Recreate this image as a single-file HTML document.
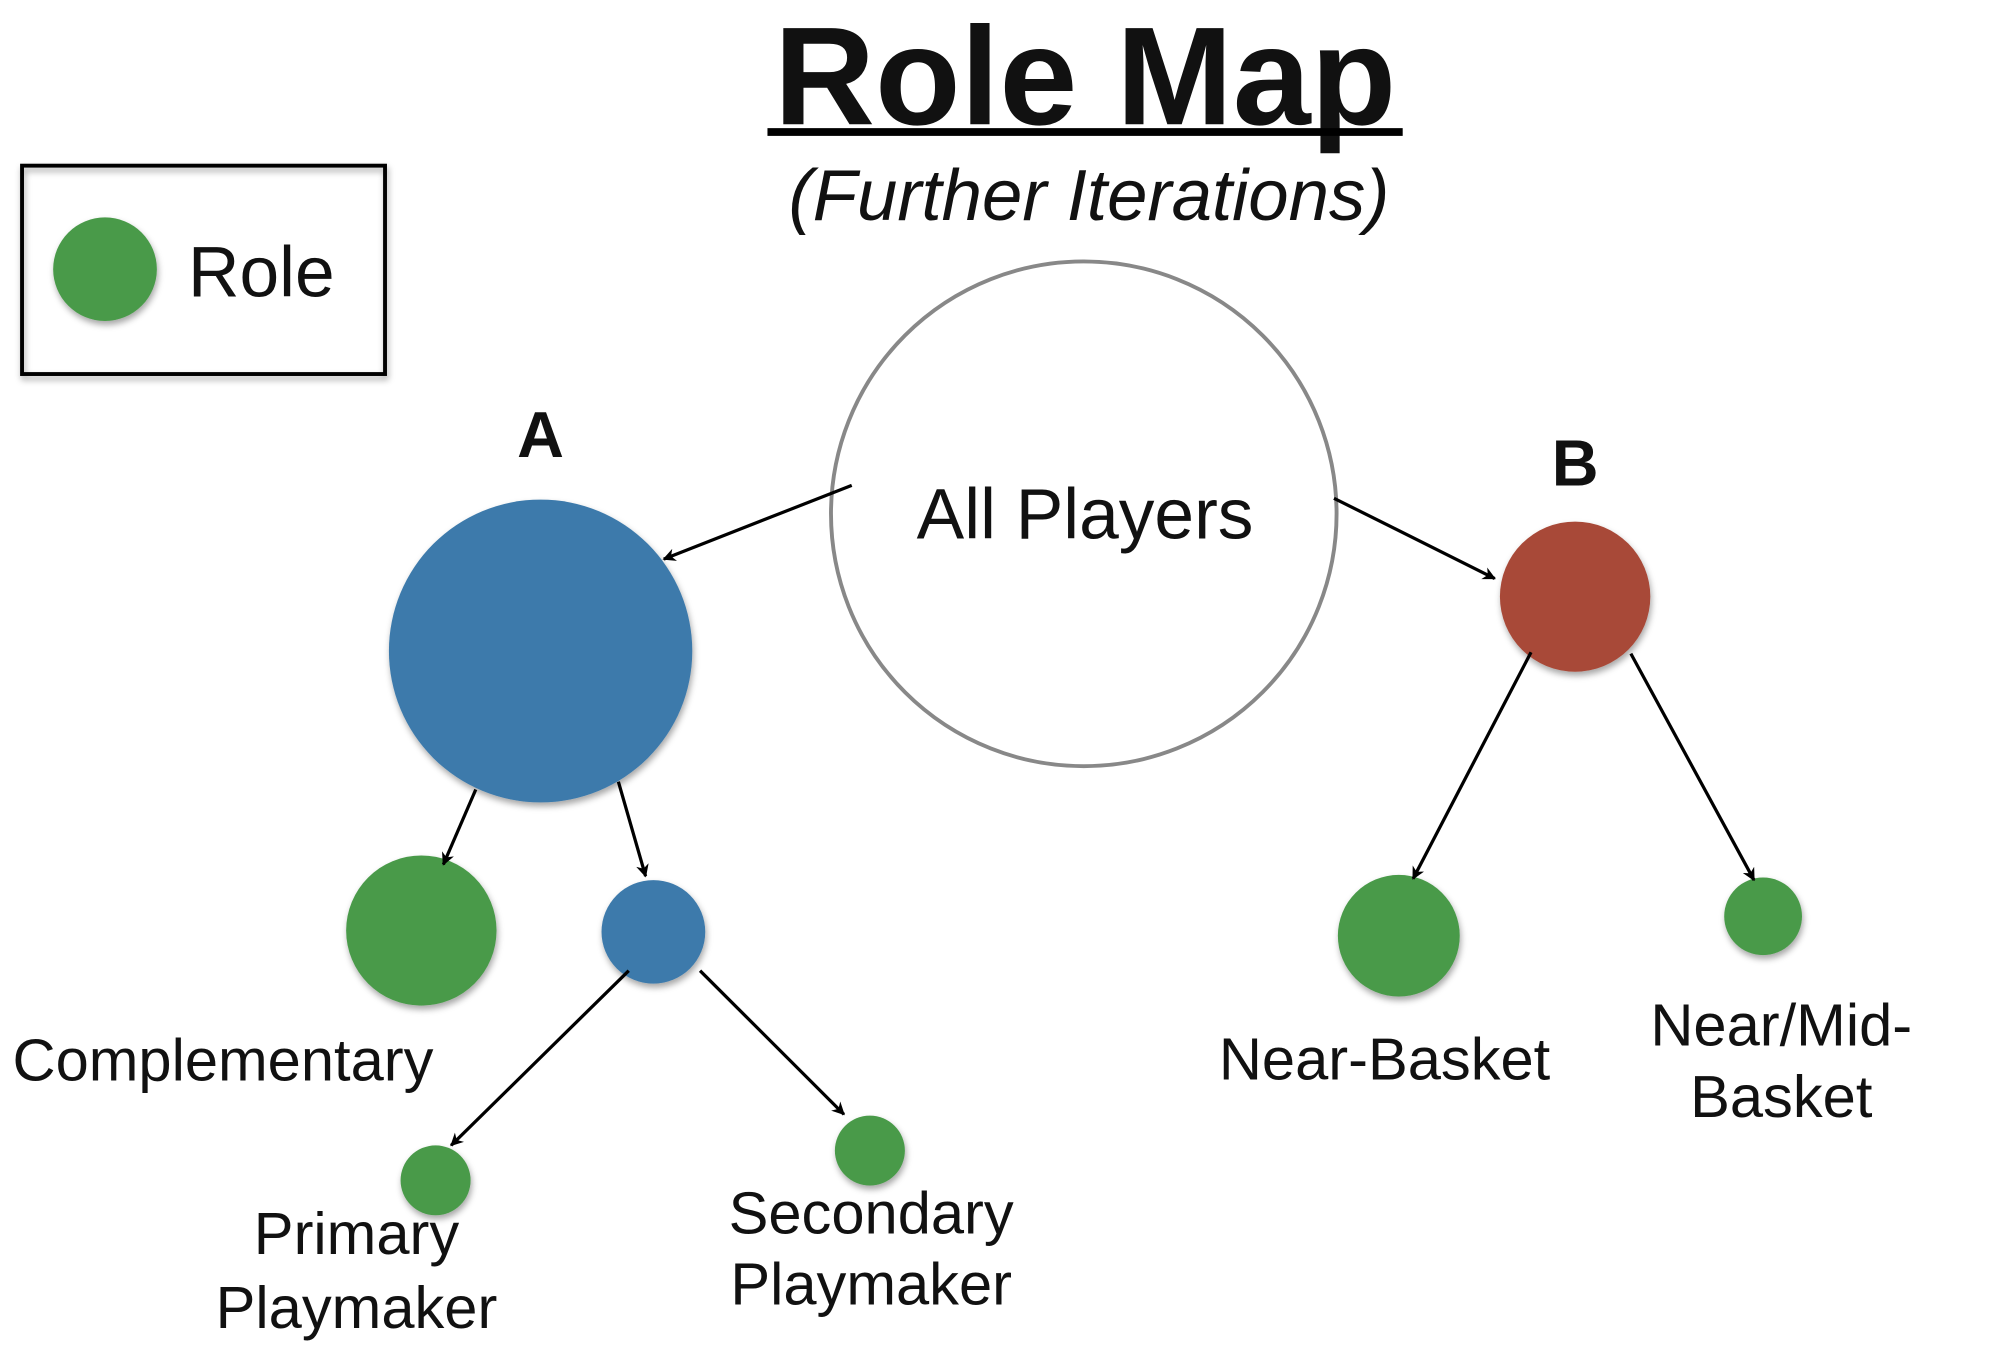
<!DOCTYPE html>
<html><head><meta charset="utf-8"><style>
html,body{margin:0;padding:0;background:#fff;}
svg{display:block;}
text{font-family:"Liberation Sans",sans-serif;fill:#111;}
</style></head><body>
<svg width="2012" height="1346" viewBox="0 0 1552 1040" preserveAspectRatio="none">
<defs>
<marker id="ah" markerWidth="10" markerHeight="10" refX="9" refY="5" orient="auto" markerUnits="userSpaceOnUse">
<path d="M0,0 L10,5 L0,10 L3,5 z" fill="#000"/></marker>
<filter id="sh" x="-20%" y="-20%" width="140%" height="140%"><feDropShadow dx="1" dy="3" stdDeviation="2.5" flood-color="#000" flood-opacity="0.35"/></filter>
</defs>
<rect width="1552" height="1040" fill="#fff"/>
<text x="837" y="96" text-anchor="middle" font-size="108" font-weight="bold">Role Map</text>
<rect x="592" y="99" width="490" height="6" fill="#000"/>
<text x="840" y="170" text-anchor="middle" font-size="56" font-style="italic">(Further Iterations)</text>
<rect x="17" y="128" width="280" height="161" fill="none" stroke="#000" stroke-width="3" filter="url(#sh)"/>
<circle cx="81" cy="208" r="40" fill="#4a9a4a" filter="url(#sh)"/>
<text x="145" y="229" font-size="55">Role</text>
<circle cx="836" cy="397" r="195" fill="#fff" stroke="#888" stroke-width="3"/>
<text x="837" y="416" text-anchor="middle" font-size="55">All Players</text>
<text x="417" y="353" text-anchor="middle" font-size="50" font-weight="bold">A</text>
<text x="1215" y="375" text-anchor="middle" font-size="50" font-weight="bold">B</text>
<circle cx="417" cy="503" r="117" fill="#3d7aab" filter="url(#sh)"/>
<circle cx="1215" cy="461" r="58" fill="#a84a38" filter="url(#sh)"/>
<circle cx="325" cy="719" r="58" fill="#4a9a4a" filter="url(#sh)"/>
<circle cx="504" cy="720" r="40" fill="#3d7aab" filter="url(#sh)"/>
<circle cx="336" cy="912" r="27" fill="#4a9a4a" filter="url(#sh)"/>
<circle cx="671" cy="889" r="27" fill="#4a9a4a" filter="url(#sh)"/>
<circle cx="1079" cy="723" r="47" fill="#4a9a4a" filter="url(#sh)"/>
<circle cx="1360" cy="708" r="30" fill="#4a9a4a" filter="url(#sh)"/>
<g stroke="#000" stroke-width="2.5" marker-end="url(#ah)">
<line x1="657" y1="375" x2="512" y2="432"/>
<line x1="1029" y1="385" x2="1153" y2="447"/>
<line x1="367" y1="610" x2="342" y2="668"/>
<line x1="477" y1="604" x2="498" y2="677"/>
<line x1="485" y1="750" x2="348" y2="885"/>
<line x1="540" y1="750" x2="651" y2="861"/>
<line x1="1181" y1="504" x2="1090" y2="679"/>
<line x1="1258" y1="505" x2="1353" y2="680"/>
</g>
<g font-size="46" text-anchor="middle">
<text x="172" y="835">Complementary</text>
<text x="275" y="969">Primary</text>
<text x="275" y="1026">Playmaker</text>
<text x="672" y="953">Secondary</text>
<text x="672" y="1008">Playmaker</text>
<text x="1068" y="834">Near-Basket</text>
<text x="1374" y="808">Near/Mid-</text>
<text x="1374" y="863">Basket</text>
</g>
</svg>
</body></html>
